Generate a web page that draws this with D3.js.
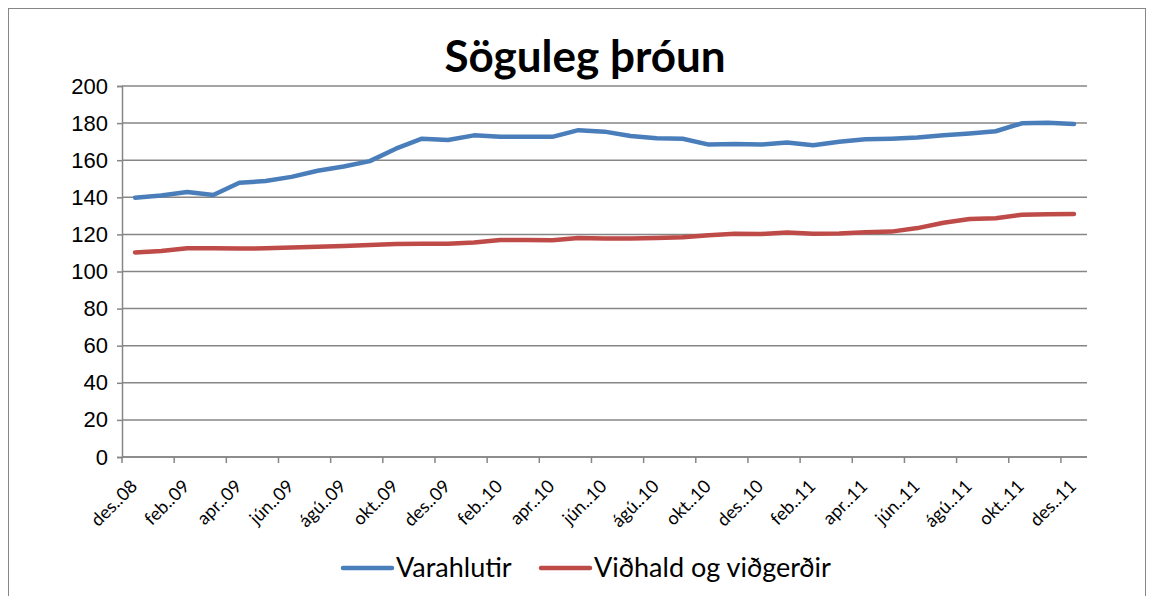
<!DOCTYPE html>
<html>
<head>
<meta charset="utf-8">
<script src="https://cdn.jsdelivr.net/npm/d3@7"></script>
<style>
  body { margin: 0; background: #fff; }
  svg { font-family: Lato, "Open Sans", sans-serif; }
</style>
</head>
<body>
<svg id="chart"></svg>
<script>
const months = ["des..08","jan..09","feb..09","mar..09","apr..09","maí..09","jún..09","júl..09","ágú..09","sep..09","okt..09","nóv..09",
  "des..09","jan..10","feb..10","mar..10","apr..10","maí..10","jún..10","júl..10","ágú..10","sep..10","okt..10","nóv..10",
  "des..10","jan..11","feb..11","mar..11","apr..11","maí..11","jún..11","júl..11","ágú..11","sep..11","okt..11","nóv..11","des..11"];

const varahlutir = [139.8, 141.0, 142.8, 141.2, 147.8, 148.8, 151.0, 154.3, 156.6, 159.5, 166.2, 171.6,
  170.9, 173.4, 172.7, 172.6, 172.6, 176.2, 175.4, 173.0, 171.8, 171.6, 168.4, 168.8,
  168.4, 169.5, 168.1, 170.0, 171.3, 171.6, 172.2, 173.4, 174.4, 175.6, 179.9, 180.2, 179.5];

const vidhald = [110.3, 111.1, 112.5, 112.5, 112.4, 112.5, 112.9, 113.4, 113.8, 114.3, 114.8, 114.9,
  114.9, 115.6, 117.0, 117.0, 116.8, 118.0, 117.8, 117.8, 118.0, 118.4, 119.5, 120.3,
  120.2, 121.0, 120.4, 120.5, 121.2, 121.5, 123.4, 126.3, 128.3, 128.7, 130.6, 130.9, 131.0];

const yTicks = [0, 20, 40, 60, 80, 100, 120, 140, 160, 180, 200];

const seriesNames = ["Varahlutir", "Viðhald og viðgerðir"];
const seriesColors = ["#4a7ebb", "#be4b48"];

const width = 1153, height = 596;
const margin = { top: 86, right: 66, bottom: 139, left: 122 };

const svg = d3.select("#chart")
  .attr("width", width)
  .attr("height", height);

// outer frame
svg.append("rect")
  .attr("x", 8.5).attr("y", 8.5)
  .attr("width", 1137).attr("height", 600)
  .attr("fill", "none")
  .attr("stroke", "#868686")
  .attr("stroke-width", 1);

svg.append("text")
  .attr("x", 585).attr("y", 72)
  .attr("text-anchor", "middle")
  .style("font-size", "44px")
  .style("font-weight", "bold")
  .text("Söguleg þróun");

const x = d3.scaleBand()
  .domain(months)
  .range([margin.left, width - margin.right])
  .padding(0);

const y = d3.scaleLinear()
  .domain([0, 200])
  .range([height - margin.bottom, margin.top]);

const xc = d => x(d) + x.bandwidth() / 2;

// gridlines
svg.append("g")
  .selectAll("line")
  .data(yTicks)
  .join("line")
  .attr("x1", margin.left).attr("x2", width - margin.right)
  .attr("y1", d => y(d)).attr("y2", d => y(d))
  .attr("stroke", "#868686")
  .attr("stroke-width", 1.5);

// y axis
const yAxisG = svg.append("g")
  .attr("transform", `translate(${margin.left},0)`)
  .call(d3.axisLeft(y).tickValues(yTicks).tickSize(5).tickPadding(9));
yAxisG.select(".domain").attr("stroke", "#868686").attr("stroke-width", 1.5);
yAxisG.selectAll(".tick line").attr("stroke", "#868686").attr("stroke-width", 1.5);
yAxisG.selectAll("text").style("font-size", "22px").attr("fill", "#000");

// x axis (ticks every second month, on band edges)
const xTickMonths = months.filter((m, i) => i % 2 === 0);
const xAxisG = svg.append("g");
xAxisG.append("line")
  .attr("x1", margin.left).attr("x2", width - margin.right)
  .attr("y1", y(0)).attr("y2", y(0))
  .attr("stroke", "#868686").attr("stroke-width", 1.5);
xAxisG.selectAll(".xt")
  .data(xTickMonths)
  .join("line")
  .attr("class", "xt")
  .attr("x1", d => x(d)).attr("x2", d => x(d))
  .attr("y1", y(0)).attr("y2", y(0) + 6)
  .attr("stroke", "#868686").attr("stroke-width", 1.5);
xAxisG.selectAll("text")
  .data(xTickMonths)
  .join("text")
  .attr("transform", d => `translate(${x(d) + 12},${y(0) + 26}) rotate(-45)`)
  .attr("text-anchor", "end")
  .attr("dy", "0.35em")
  .style("font-size", "18px")
  .text(d => d);

// lines
const line = d3.line()
  .x((d, i) => xc(months[i]))
  .y(d => y(d));

[varahlutir, vidhald].forEach((s, k) => {
  svg.append("path")
    .datum(s)
    .attr("fill", "none")
    .attr("stroke", seriesColors[k])
    .attr("stroke-width", 4.5)
    .attr("stroke-linejoin", "round")
    .attr("stroke-linecap", "round")
    .attr("d", line);
});

// legend
const legendX = [343, 541];
const legend = svg.append("g").selectAll("g")
  .data(seriesNames)
  .join("g")
  .attr("transform", (d, i) => `translate(${legendX[i]},568)`);
legend.append("line")
  .attr("x1", 0).attr("x2", 49)
  .attr("stroke", (d, i) => seriesColors[i])
  .attr("stroke-width", 4.5)
  .attr("stroke-linecap", "round");
legend.append("text")
  .attr("x", 53)
  .attr("dy", "0.35em")
  .style("font-size", "27px")
  .text(d => d);
</script>
</body>
</html>
